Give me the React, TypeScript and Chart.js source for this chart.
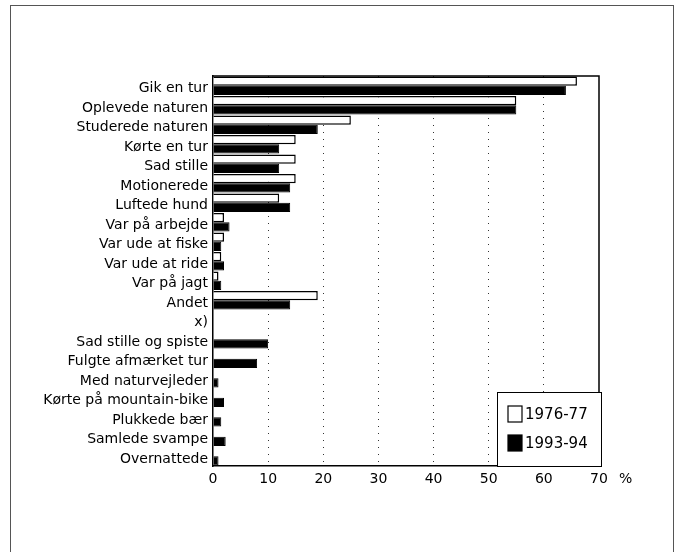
import React, { useEffect, useRef } from "react";
import { Chart, registerables } from "chart.js";

Chart.register(...registerables);

const categories = [
  "Gik en tur",
  "Oplevede naturen",
  "Studerede naturen",
  "Kørte en tur",
  "Sad stille",
  "Motionerede",
  "Luftede hund",
  "Var på arbejde",
  "Var ude at fiske",
  "Var ude at ride",
  "Var på jagt",
  "Andet",
  "x)",
  "Sad stille og spiste",
  "Fulgte afmærket tur",
  "Med naturvejleder",
  "Kørte på mountain-bike",
  "Plukkede bær",
  "Samlede svampe",
  "Overnattede",
];

const series1976 = [66, 55, 25, 15, 15, 15, 12, 2, 2, 1.5, 1, 19, null, null, null, null, null, null, null, null];
const series1993 = [64, 55, 19, 12, 12, 14, 14, 3, 1.5, 2, 1.5, 14, null, 10, 8, 1, 2, 1.5, 2.3, 1];

const seriesLabels = ["1976-77", "1993-94"];
const xTicks = [0, 10, 20, 30, 40, 50, 60, 70];

const FONT = "'DejaVu Sans', Verdana, sans-serif";

const framePlugin = {
  id: "framePlugin",
  afterDraw(chart: any) {
    const ctx = chart.ctx;
    const a = chart.chartArea;
    ctx.save();
    // outer frame
    ctx.strokeStyle = "#555";
    ctx.lineWidth = 1;
    ctx.strokeRect(10.5, 5.5, 663, 560);
    // plot frame top and right
    ctx.strokeStyle = "#000";
    ctx.lineWidth = 1.5;
    ctx.beginPath();
    ctx.moveTo(a.left, a.top);
    ctx.lineTo(a.right, a.top);
    ctx.lineTo(a.right, a.bottom);
    ctx.stroke();
    // percent sign
    ctx.fillStyle = "#000";
    ctx.font = `14px ${FONT}`;
    ctx.textAlign = "left";
    ctx.textBaseline = "middle";
    ctx.fillText("%", a.right + 20, a.bottom + 13);
    // legend
    const lx = 497, ly = 392, lw = a.right - 497 + 2, lh = a.bottom - 392;
    ctx.fillStyle = "#fff";
    ctx.fillRect(lx, ly, lw, lh);
    ctx.strokeStyle = "#000";
    ctx.lineWidth = 1;
    ctx.strokeRect(lx + 0.5, ly + 0.5, lw, lh);
    const ds = chart.data.datasets;
    for (let i = 0; i < ds.length; i++) {
      const y = ly + 22 + i * 29;
      ctx.fillStyle = ds[i].backgroundColor;
      ctx.fillRect(508, y - 8, 14, 16);
      ctx.strokeStyle = "#000";
      ctx.lineWidth = 1.2;
      ctx.strokeRect(508, y - 8, 14, 16);
      ctx.fillStyle = "#000";
      ctx.font = `15px ${FONT}`;
      ctx.textAlign = "left";
      ctx.textBaseline = "middle";
      ctx.fillText(ds[i].label, 525, y + 1);
    }
    ctx.restore();
  },
};

export default function App() {
  const ref = useRef<HTMLCanvasElement>(null);
  useEffect(() => {
    document.body.style.margin = "0";
    const chart = new Chart(ref.current as HTMLCanvasElement, {
      type: "bar",
      data: {
        labels: categories,
        datasets: [
          {
            label: seriesLabels[0],
            data: series1976 as any,
            backgroundColor: "#ffffff",
            borderColor: "#000000",
            borderWidth: 1.5,
            categoryPercentage: 0.95,
            barPercentage: 1,
          },
          {
            label: seriesLabels[1],
            data: series1993 as any,
            backgroundColor: "#000000",
            borderColor: "#000000",
            borderWidth: 1,
            categoryPercentage: 0.95,
            barPercentage: 1,
          },
        ],
      },
      options: {
        indexAxis: "y",
        animation: false,
        responsive: false,
        layout: { padding: { top: 76, right: 79, bottom: 56, left: 0 } },
        plugins: { legend: { display: false }, tooltip: { enabled: false } },
        scales: {
          x: {
            min: 0,
            max: 70,
            afterBuildTicks: (s: any) => {
              s.ticks = xTicks.map((v) => ({ value: v }));
            },
            afterFit: (s: any) => {
              s.height = 30;
            },
            ticks: {
              color: "#000",
              font: { family: FONT, size: 14 },
              padding: 5,
              maxRotation: 0,
            },
            grid: {
              drawTicks: false,
              color: (c: any) => (c.tick && c.tick.value > 0 && c.tick.value < 70 ? "#333" : "rgba(0,0,0,0)"),
              lineWidth: 1,
            },
            border: { display: true, color: "#000", width: 1.5, dash: [1, 6] as any },
          } as any,
          y: {
            afterFit: (s: any) => {
              s.width = 213;
            },
            ticks: {
              color: "#000",
              font: { family: FONT, size: 14 },
              padding: 5,
              labelOffset: 3,
              autoSkip: false,
            },
            grid: { display: false, drawTicks: false },
            border: { display: true, color: "#000", width: 1.5 },
          } as any,
        },
      } as any,
      plugins: [framePlugin],
    });
    return () => chart.destroy();
  }, []);
  return <canvas ref={ref} width={678} height={552} style={{ display: "block" }} />;
}
